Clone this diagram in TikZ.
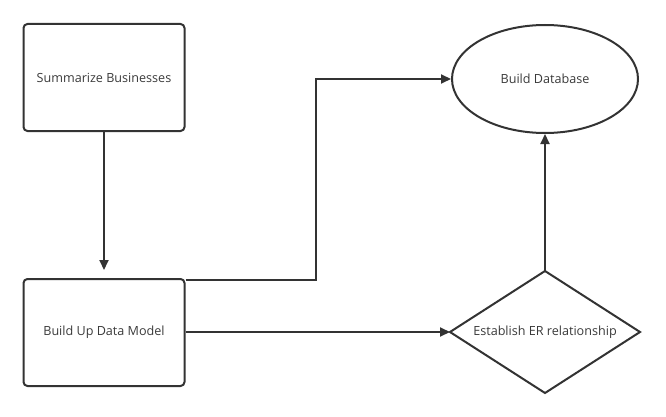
\documentclass[tikz,border=0pt]{standalone}
\usepackage{fontspec}
\setmainfont{Open Sans}
\usetikzlibrary{arrows.meta,shapes.geometric,calc}
\definecolor{ln}{HTML}{333333}
\definecolor{tx}{HTML}{3a3a3a}
\tikzset{
  x=1pt,y=-1pt,
  lbl/.style={font=\fontsize{12.6}{14}\selectfont,text=tx,inner sep=0pt},
  base/.style={lbl,draw=ln,line width=2pt},
  procbox/.style={base,rectangle,rounded corners=4pt,minimum width=161pt,minimum height=107pt},
  dbell/.style={base,ellipse,minimum width=186pt,minimum height=108pt},
  conn/.style={draw=ln,line width=2pt,-{Triangle[length=10pt,width=9pt]}},
}
\begin{document}
\begin{tikzpicture}
\useasboundingbox (0,0) rectangle (666,417);
\node[procbox] (sum) at (104,77.5) {Summarize Businesses};
\node[procbox] (model) at (104,332.5) {Build Up Data Model};
\node[dbell] (db) at (545,79) {Build Database};
\draw[base] (450,332) -- (545,271) -- (640,332) -- (545,393) -- cycle;
\node[lbl] (er) at (545,332) {Establish ER relationship};
\coordinate (erL) at (450,332);
\coordinate (erT) at (545,271);
\coordinate (modelTop) at (104,270);
\coordinate (bend) at (316,280);
\draw[conn] (sum.south) -- (modelTop);
\draw[conn] (model.east |- bend) -- (bend) |- (db.west);
\draw[conn] (model.east |- erL) -- (erL);
\draw[conn] (erT) -- (db.south);
\end{tikzpicture}
\end{document}
